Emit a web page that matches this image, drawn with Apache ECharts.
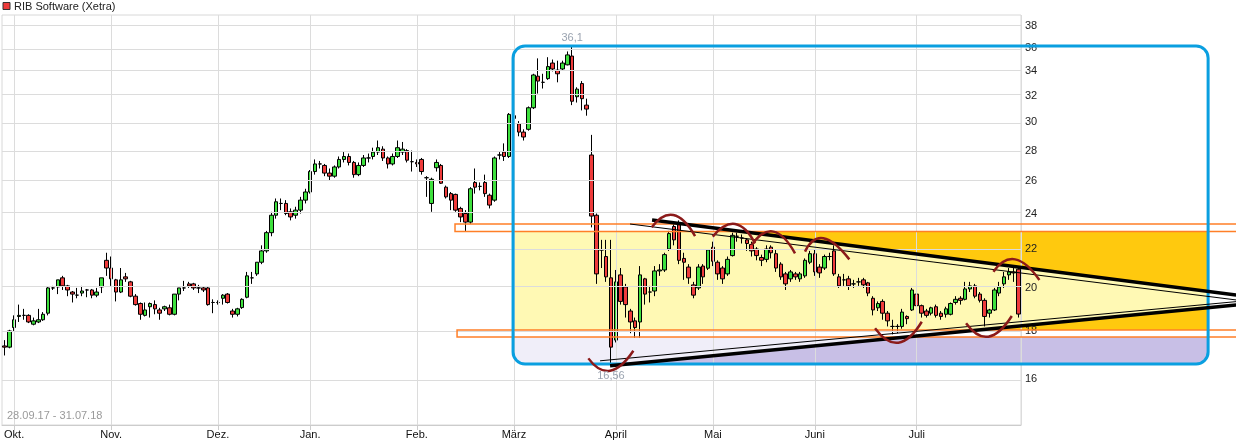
<!DOCTYPE html>
<html>
<head>
<meta charset="utf-8">
<script src="https://cdn.jsdelivr.net/npm/echarts@6/dist/echarts.min.js"></script>
<style>html,body{margin:0;padding:0;background:#fff}#c{width:1236px;height:441px}</style>
</head>
<body>
<div id="c"></div>
<script>
// ---------- categories (Xetra trading days) ----------
const startDate = '2017-09-28';
const endDate = '2018-07-31';
const holidays = ['2017-10-03','2017-10-31','2017-12-25','2017-12-26','2018-01-01','2018-03-30','2018-04-02','2018-05-01','2018-05-21'];
const monthNames = ['Jan.','Feb.','März','April','Mai','Juni','Juli','Aug.','Sep.','Okt.','Nov.','Dez.'];
function buildDays(a, b) {
  const out = [];
  const d = new Date(a + 'T00:00:00Z'), e = new Date(b + 'T00:00:00Z');
  while (d <= e) {
    const s = d.toISOString().slice(0, 10);
    const wd = d.getUTCDay();
    if (wd !== 0 && wd !== 6 && holidays.indexOf(s) < 0) out.push(s);
    d.setUTCDate(d.getUTCDate() + 1);
  }
  return out;
}
const days = buildDays(startDate, endDate);

// ---------- y axis tick labels ----------
const yTicks = [16, 18, 20, 22, 24, 26, 28, 30, 32, 34, 36, 38];
const yMin = 14.295, yMax = 39.035;

// ---------- OHLC per month: [open, close, low, high] ----------
const sep17 = [[17.35,17.3,16.95,17.6],[17.3,18.0,17.25,18.05]];
const oct17 = [[18.15,18.5,18.0,18.7],[18.65,18.7,18.4,19.2],[18.7,18.7,18.5,19.0],[18.7,18.4,18.35,18.75],[18.3,18.45,18.25,18.6],
 [18.4,18.5,18.35,19.0],[18.5,18.75,18.45,18.85],[18.8,20.0,18.7,20.05],[20.0,20.0,19.9,20.1],[20.05,20.4,19.7,20.4],
 [20.5,20.1,19.9,20.6],[20.1,19.9,19.6,20.15],[19.8,19.7,19.3,19.85],[19.65,19.65,19.5,20.0],[19.75,19.85,19.6,20.1],
 [19.9,19.9,19.55,19.95],[19.9,19.65,19.5,19.95],[19.65,19.8,19.55,20.0],[20.05,20.5,19.75,20.5],[21.4,21.0,20.6,21.8]];
const nov17 = [[21.0,20.45,20.1,21.6],[20.4,19.8,19.35,20.45],[19.8,20.4,19.75,21.0],[20.55,20.45,20.3,20.75],[20.3,19.6,19.55,20.35],
 [19.6,19.2,19.15,19.7],[19.25,18.75,18.5,19.3],[18.7,18.95,18.65,19.3],[19.1,19.25,18.6,19.3],[19.2,19.0,18.75,19.4],
 [18.95,18.8,18.5,19.05],[19.0,19.1,18.9,19.15],[19.05,18.75,18.7,19.2],[18.75,19.7,18.7,19.7],[19.7,20.0,19.4,20.0],
 [20.0,20.0,19.85,20.35],[20.2,20.1,20.0,20.3],[20.2,20.0,19.9,20.25],[20.0,20.0,19.75,20.15],[20.0,19.9,19.8,20.05],
 [20.0,19.2,19.15,20.05],[19.3,19.3,18.8,19.45]];
const dec17 = [[19.3,19.3,19.2,19.4],[19.5,19.65,19.2,19.7],[19.7,19.3,19.25,19.75],[18.9,18.75,18.6,19.0],[18.75,19.0,18.65,19.05],
 [19.06,19.45,19.0,19.5],[19.55,20.6,19.5,20.8],[20.5,20.5,20.2,20.8],[20.7,21.3,20.6,21.3],[21.3,21.9,21.2,22.2],
 [21.9,22.9,21.8,23.0],[22.9,23.9,22.7,24.1],[23.9,24.7,23.7,24.9],[24.6,24.6,24.2,24.9],[24.6,24.0,23.9,24.8],
 [24.1,23.8,23.6,24.3],[23.9,24.2,23.7,24.4],[24.2,24.8,24.0,25.0],[24.8,25.3,24.6,25.5]];
const jan18 = [[25.3,26.6,25.2,26.7],[26.6,27.1,26.4,27.4],[27.1,27.1,26.8,27.3],[27.0,26.5,26.3,27.1],[26.5,26.3,26.0,26.8],
 [26.3,26.9,26.2,27.0],[26.9,27.4,26.8,27.6],[27.4,27.6,27.2,27.9],[27.6,27.2,27.0,27.8],[27.2,26.4,26.2,27.3],
 [26.4,27.0,26.3,27.2],[27.0,27.5,26.9,27.7],[27.5,27.5,27.2,27.8],[27.6,27.9,27.4,28.2],[27.9,28.2,27.7,28.7],
 [28.1,27.5,27.3,28.3],[27.5,27.1,26.8,27.6],[27.1,27.6,27.0,27.8],[27.6,28.2,27.5,28.7],[27.9,28.1,27.7,28.6],
 [28.0,27.35,27.2,28.1],[27.25,27.25,26.6,28.0]];
const feb18 = [[27.2,27.1,26.9,27.4],[27.4,26.6,26.4,27.5],[26.2,26.2,25.0,26.3],[24.6,26.1,24.1,26.2],[26.85,27.2,26.6,27.4],
 [27.0,25.85,25.8,27.1],[25.6,25.0,24.9,25.7],[25.2,24.8,24.2,25.3],[25.15,24.2,24.1,25.2],[24.3,23.8,23.5,24.4],
 [24.0,23.5,23.0,24.2],[23.5,25.5,23.4,25.6],[25.9,25.6,25.2,26.8],[25.65,25.65,25.4,25.9],[25.9,25.2,25.0,26.4],
 [25.1,24.5,24.3,25.2],[24.8,27.5,24.7,27.6],[27.7,27.7,27.4,27.9],[27.9,27.6,27.3,28.5],[27.6,30.6,27.5,30.7]];
const mar18 = [[30.5,30.3,29.9,31.0],[29.9,29.3,29.0,30.1],[29.3,28.95,28.7,29.5],[29.5,31.1,29.4,31.2],[31.1,33.7,31.0,33.8],
 [33.6,33.2,32.2,35.1],[33.1,33.1,32.6,33.8],[33.4,34.4,33.3,35.2],[34.7,34.2,34.0,35.0],[34.1,33.8,33.1,34.9],
 [34.2,34.7,34.1,34.9],[34.55,35.4,34.5,35.7],[35.3,31.6,31.3,36.1],[31.95,32.55,31.5,32.7],[33.0,31.8,30.9,33.2],
 [31.3,31.0,30.5,31.8],[27.7,23.85,23.2,29.1],[23.9,20.7,20.2,24.0],[21.95,21.95,21.0,22.5],[21.6,20.55,20.3,22.5],
 [20.5,17.3,16.56,22.5]];
const apr18 = [[17.6,20.3,17.5,20.9],[20.65,19.35,19.2,21.0],[20.05,19.2,18.6,20.2],[18.9,18.4,17.9,19.0],[18.45,18.15,17.7,18.6],
 [18.4,20.65,17.7,21.1],[20.45,19.7,19.2,20.5],[19.8,19.8,19.3,20.1],[19.85,20.85,19.6,21.1],[20.85,20.9,20.6,21.2],
 [20.9,21.7,20.8,21.8],[22.0,22.85,21.9,23.0],[23.25,22.5,22.2,23.4],[23.35,21.4,21.2,23.6],[21.5,21.3,20.4,21.8],
 [21.05,20.5,20.2,21.2],[20.15,19.65,19.5,20.3],[20.0,21.05,19.9,21.2],[21.1,20.55,20.2,21.2],[20.99,21.95,20.9,22.0]];
const may18 = [[22.1,21.35,21.1,22.4],[21.3,20.7,20.4,21.4],[21.0,20.45,20.2,21.1],[20.7,21.45,20.6,21.6],[21.65,22.75,21.6,22.9],
 [22.7,22.7,22.4,22.9],[22.6,22.6,22.3,22.8],[22.5,22.3,21.9,22.6],[22.25,21.9,21.6,22.4],[22.0,21.65,21.4,22.1],
 [21.55,21.4,21.1,21.7],[21.45,22.0,21.3,22.2],[22.1,21.8,21.5,22.2],[21.75,21.0,20.8,22.0],[21.2,20.55,20.4,21.3],
 [20.7,20.2,19.9,20.8],[20.45,20.8,20.3,20.9],[20.7,20.55,20.4,20.8],[20.45,20.7,20.3,20.8],[20.6,21.4,20.5,21.5],
 [21.3,21.75,21.2,21.9]];
const jun18 = [[21.75,20.8,20.6,22.0],[21.05,20.75,20.5,21.2],[21.0,21.6,20.9,21.7],[21.6,21.6,21.4,21.8],[21.9,20.7,20.6,22.2],
 [20.55,20.1,20.0,20.7],[20.4,20.4,20.1,20.7],[20.45,20.1,19.9,20.6],[20.2,20.2,20.0,20.4],[20.3,20.3,20.1,20.5],
 [20.4,20.15,20.0,20.5],[20.25,19.75,19.6,20.3],[19.5,18.95,18.7,19.6],[19.05,19.25,18.9,19.35],[19.35,18.8,18.5,19.45],
 [18.8,18.45,18.2,18.9],[18.2,18.2,17.85,18.5],[18.2,18.2,17.9,18.3],[18.2,18.85,18.1,19.0],[18.65,18.55,18.3,18.7],
 [18.95,19.9,18.9,20.0]];
const jul18 = [[19.7,19.15,19.0,19.8],[19.15,18.8,18.6,19.2],[18.9,18.7,18.6,19.0],[18.8,19.05,18.7,19.1],[19.1,18.7,18.6,19.2],
 [18.8,18.65,18.5,18.9],[18.75,19.0,18.6,19.1],[18.75,19.25,18.7,19.3],[19.3,19.45,19.2,19.6],[19.5,19.4,19.2,19.6],
 [19.45,19.95,19.4,20.3],[19.95,20.1,19.8,20.3],[20.1,19.6,19.5,20.2],[19.7,19.4,19.3,19.8],[19.4,18.65,18.2,19.5],
 [18.8,18.95,18.6,19.0],[18.95,19.9,18.9,20.0],[19.75,20.05,19.6,20.3],[20.2,20.55,20.0,20.8],[20.65,20.8,20.4,21.0],
 [20.8,20.75,20.3,21.0],[20.94,18.76,18.6,21.0]];
const ohlc = [].concat(sep17, oct17, nov17, dec17, jan18, feb18, mar18, apr18, may18, jun18, jul18);

// ---------- annotations (trading-day index, price) ----------
const boxIdx = [104.82, 248.06];
const boxPrice = [36.18, 16.6];
const zoneTop = [23.39, 22.97];       // upper orange band
const zoneBottom = [18.04, 17.73];    // lower orange band
const zoneStartIdx = [92.86, 93.28];
const edgeIdx = 254.6;
const triUpperThick = [[133.47, 23.62], [253.83, 19.66]];
const triUpperThin  = [[128.93, 23.39], [253.83, 19.42]];
const triLowerThick = [[124.81, 16.53], [253.83, 19.18]];
const triLowerThin  = [[122.75, 16.73], [253.83, 19.34]];
const arcs = [ // start, extreme, end
  [[120.34,16.83],[124.81,16.33],[129.61,17.15]],
  [[133.40,23.20],[137.85,23.91],[142.33,22.71]],
  [[145.97,22.68],[150.57,23.39],[154.69,22.31]],
  [[154.01,22.22],[158.46,22.96],[162.93,21.77]],
  [[164.99,21.86],[168.76,22.59],[174.12,21.45]],
  [[203.81,20.81],[208.28,21.45],[213.29,20.39]],
  [[179.42,18.12],[184.23,17.49],[189.05,18.41]],
  [[198.18,18.34],[202.78,17.75],[207.60,18.67]]
];

const L = Math.log;
const FONT = '"Liberation Sans", Arial, sans-serif';
const monthStarts = [];
days.forEach((d, i) => { if (i > 0 && d.slice(5, 7) !== days[i - 1].slice(5, 7)) monthStarts.push(i); });
const startSet = new Set(monthStarts);

const chart = echarts.init(document.getElementById('c'), null, {renderer: 'canvas'});
const option = {
  animation: false,
  backgroundColor: '#ffffff',
  grid: {left: 2, right: 215, top: 15, bottom: 16, show: true, borderColor: '#d8d8d8', borderWidth: 1, backgroundColor: 'transparent'},
  xAxis: [
    {
      type: 'category', data: days, boundaryGap: true,
      axisLine: {lineStyle: {color: '#cccccc', width: 1}},
      axisTick: {show: true, alignWithLabel: true, interval: (i) => startSet.has(i), length: 5, lineStyle: {color: '#cccccc'}},
      axisLabel: {interval: (i) => startSet.has(i), formatter: (v) => monthNames[+v.slice(5, 7) - 1], color: '#111', fontSize: 11, fontFamily: FONT, margin: 4},
      splitLine: {show: false}
    },
    {type: 'value', min: -0.5, max: days.length - 0.5, show: false}
  ],
  yAxis: {
    type: 'value', position: 'right', min: L(yMin), max: L(yMax),
    axisLine: {show: false}, axisTick: {show: false}, splitLine: {show: false},
    axisLabel: {customValues: yTicks.map(L), formatter: (v) => String(Math.round(Math.exp(v))), color: '#222', fontSize: 11, fontFamily: FONT, margin: 4}
  },
  series: [
    {
      type: 'candlestick', name: 'RIB Software (Xetra)', z: 3, barWidth: 4,
      data: ohlc.map(r => r.map(L)),
      itemStyle: {color: '#3ee03e', color0: '#ee3b3b', borderColor: '#000', borderColor0: '#000', borderColorDoji: '#000', borderWidth: 1}
    },
    {
      type: 'line', xAxisIndex: 1, yAxisIndex: 0, data: [], z: 1, silent: true,
      markLine: {
        silent: true, symbol: ['none', 'none'], animation: false, label: {show: false},
        lineStyle: {color: '#dcdcdc', width: 1, type: 'solid'},
        data: yTicks.map(v => ({yAxis: L(v)})).concat(monthStarts.map(i => ({xAxis: i})), [{xAxis: days.length - 0.5}])
      }
    }
  ]
};
chart.setOption(option);

function P(i, p) { return chart.convertToPixel({seriesIndex: 1}, [i, L(p)]); }
function rectFrom(a, b) { return {x: Math.min(a[0], b[0]), y: Math.min(a[1], b[1]), width: Math.abs(b[0] - a[0]), height: Math.abs(b[1] - a[1])}; }
function xAtY(line, y) { const a = P(line[0][0], line[0][1]), b = P(line[1][0], line[1][1]); return a[0] + (y - a[1]) * (b[0] - a[0]) / (b[1] - a[1]); }
function yAtX(line, x) { const a = P(line[0][0], line[0][1]), b = P(line[1][0], line[1][1]); return a[1] + (x - a[0]) * (b[1] - a[1]) / (b[0] - a[0]); }

const boxTL = P(boxIdx[0], boxPrice[0]), boxBR = P(boxIdx[1], boxPrice[1]);
const xL = boxTL[0], xR = boxBR[0], yBoxTop = boxTL[1], yBoxBot = boxBR[1];
const yBandTop = P(0, zoneTop[1])[1], yBandBot = P(0, zoneBottom[0])[1], yLavTop = P(0, zoneBottom[1])[1];
const R = 12;
const els = [];
// fills
els.push({type: 'rect', z: -1, silent: true, shape: {x: xL, y: yBandTop, width: xR - xL, height: yBandBot - yBandTop}, style: {fill: '#fff9b4'}});
els.push({type: 'rect', z: -1, silent: true, shape: {x: xL, y: yLavTop, width: xR - xL, height: yBoxBot - yLavTop, r: [0, 0, R, R]}, style: {fill: '#f0eef9'}});
const gu = xAtY(triUpperThick, yBandTop);
els.push({type: 'polygon', z: -1, silent: true, shape: {points: [[gu, yBandTop], [xR, yBandTop], [xR, yAtX(triUpperThick, xR)]]}, style: {fill: '#ffc90e'}});
const gl = xAtY(triLowerThick, yBandBot);
els.push({type: 'polygon', z: -1, silent: true, shape: {points: [[gl, yBandBot], [xR, yBandBot], [xR, yAtX(triLowerThick, xR)]]}, style: {fill: '#ffc90e'}});
const lk = xAtY(triLowerThick, yBoxBot), lj = xAtY(triLowerThick, yLavTop);
const lavPts = [[lk, yBoxBot], [lj, yLavTop], [xR, yLavTop]];
for (let k = 0; k <= 8; k++) { const a = k / 8 * Math.PI / 2; lavPts.push([xR - R + R * Math.cos(a), yBoxBot - R + R * Math.sin(a)]); }
els.push({type: 'polygon', z: -1, silent: true, shape: {points: lavPts}, style: {fill: '#c8bfe6'}});
// orange bands
const edgeX = P(edgeIdx, 20)[0];
[[zoneStartIdx[0], zoneTop], [zoneStartIdx[1], zoneBottom]].forEach(([si, z]) => {
  const a = P(si, z[0]), b = P(edgeIdx, z[1]);
  els.push({type: 'rect', z: 10, silent: true, shape: rectFrom(a, b), style: {fill: 'none', stroke: '#ff7f27', lineWidth: 1.5}});
});
// blue box
els.push({type: 'rect', z: 11, silent: true, shape: {x: xL, y: yBoxTop, width: xR - xL, height: yBoxBot - yBoxTop, r: R}, style: {fill: 'none', stroke: '#0a9fe0', lineWidth: 3}});
// triangle lines
[[triUpperThin, 1], [triLowerThin, 1], [triUpperThick, 3.5], [triLowerThick, 3.5]].forEach(([ln, w]) => {
  els.push({type: 'polyline', z: 12, silent: true, shape: {points: [P(ln[0][0], ln[0][1]), P(ln[1][0], ln[1][1])]}, style: {stroke: '#000', lineWidth: w, fill: 'none'}});
});
// arcs
arcs.forEach(([s, m, e]) => {
  const a = P(s[0], s[1]), c = P(m[0], m[1]), b = P(e[0], e[1]);
  els.push({type: 'bezierCurve', z: 13, silent: true,
    shape: {x1: a[0], y1: a[1], x2: b[0], y2: b[1], cpx1: 2 * c[0] - (a[0] + b[0]) / 2, cpy1: 2 * c[1] - (a[1] + b[1]) / 2},
    style: {stroke: '#8b1a1a', lineWidth: 2.5, fill: 'none'}});
});
// max / min labels
let iMax = 0, iMin = 0;
ohlc.forEach((r, i) => { if (r[3] > ohlc[iMax][3]) iMax = i; if (r[2] < ohlc[iMin][2]) iMin = i; });
const pMax = P(iMax, ohlc[iMax][3]), pMin = P(iMin, ohlc[iMin][2]);
function txt(x, y, t, fill, align) {
  return {type: 'text', z: 20, silent: true, x: x, y: y,
    style: {text: t, fill: fill, font: '11px ' + FONT, align: align, textAlign: align, verticalAlign: 'middle', textVerticalAlign: 'middle'}};
}
els.push(txt(pMax[0], pMax[1] - 9, String(ohlc[iMax][3]).replace('.', ','), '#9aa3b0', 'center'));
els.push(txt(pMin[0], pMin[1] + 11, String(ohlc[iMin][2]).replace('.', ','), '#9aa3b0', 'center'));
// legend & date range
els.push({type: 'rect', z: 20, silent: true, shape: {x: 3, y: 2.5, width: 7, height: 7}, style: {fill: '#ee3b3b', stroke: '#333', lineWidth: 1}});
els.push(txt(14, 7, 'RIB Software (Xetra)', '#222', 'left'));
const fmt = (s) => s.slice(8, 10) + '.' + s.slice(5, 7) + '.' + s.slice(2, 4);
els.push(txt(7, 416, fmt(days[0]) + ' - ' + fmt(days[days.length - 1]), '#9a9a9a', 'left'));
chart.setOption({graphic: els});
</script>
</body>
</html>
